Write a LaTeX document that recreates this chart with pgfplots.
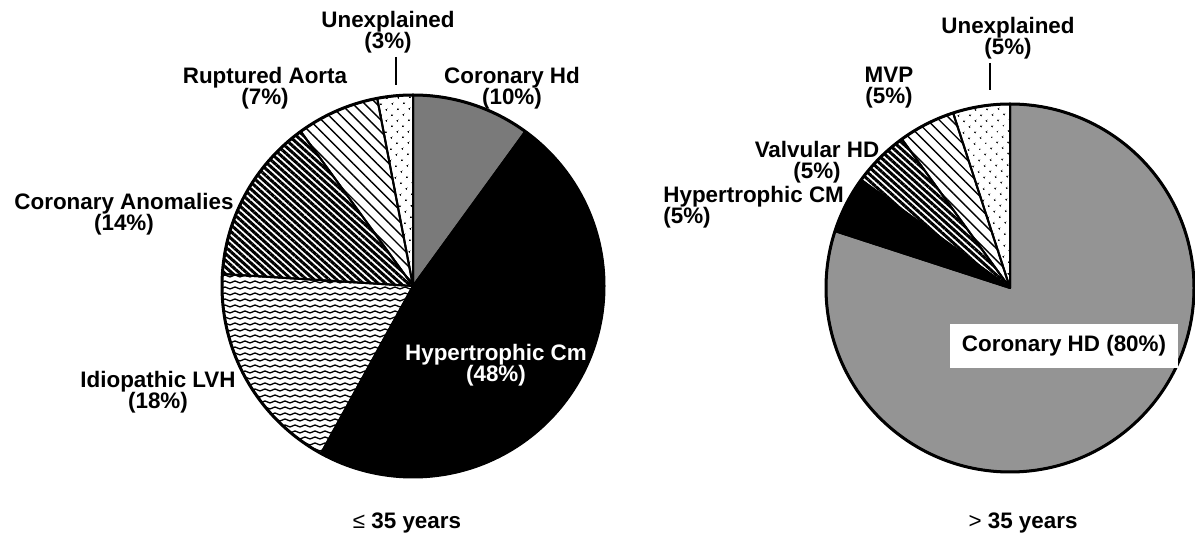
\documentclass[border=0pt]{standalone}
\usepackage{fontspec}
\setmainfont{Liberation Sans}
\usepackage{pgfplots}
\pgfplotsset{compat=1.18}
\usetikzlibrary{patterns,patterns.meta}

\pgfdeclarepatternformonly{waves}{\pgfqpoint{0pt}{-0.5pt}}{\pgfqpoint{5pt}{1.5pt}}{\pgfqpoint{5pt}{3pt}}{%
  \pgfsetlinewidth{0.65pt}%
  \pgfpathmoveto{\pgfqpoint{0pt}{0pt}}%
  \pgfpathcurveto{\pgfqpoint{1pt}{0pt}}{\pgfqpoint{1.5pt}{1pt}}{\pgfqpoint{2.5pt}{1pt}}%
  \pgfpathcurveto{\pgfqpoint{3.5pt}{1pt}}{\pgfqpoint{4pt}{0pt}}{\pgfqpoint{5pt}{0pt}}%
  \pgfusepath{stroke}%
}

% one slice: #1 style, #2 percent; start angle in \a, clockwise
\newcommand\slice[2]{%
  \pgfmathsetmacro\endang{\a-3.6*#2}%
  \edef\temp{\noexpand\addplot[\unexpanded{#1}, domain=\endang:\a, samples=90]
     ({\cx+\r*cos(x)},{\cy+\r*sin(x)}) -- (axis cs:\cx,\cy) -- cycle;}%
  \temp
  \let\a\endang
}

\tikzset{
  lab/.style={font=\fontsize{11.2}{10.6}\selectfont\bfseries, align=center, inner sep=0pt},
  sl/.style={draw=black, line width=1pt, line join=round},
  dotsp/.style={pattern={Dots[distance=4pt, angle=45, radius=0.55pt]}},
  sparse/.style={pattern={Lines[angle=-45, distance=4.2pt, line width=0.7pt]}},
  dense/.style={pattern={Lines[angle=-42, distance=2.5pt, line width=1.5pt]}},
  wavy/.style={pattern=waves},
}

\begin{document}
\begin{tikzpicture}
\begin{axis}[
  width=597.5pt, height=267.5pt, scale only axis,
  xmin=0, xmax=1195, ymin=0, ymax=535,
  axis lines=none, ticks=none, clip=false,
]
% ---------- left pie (<= 35 years) ----------
\def\cx{413}\def\cy{249}\def\r{191}\def\a{90}
\slice{sl, fill=black!52}{10}   % Coronary Hd
\slice{sl, fill=black}{48}      % Hypertrophic Cm
\slice{sl, wavy}{18}            % Idiopathic LVH
\slice{sl, dense}{14}           % Coronary Anomalies
\slice{sl, sparse}{7}           % Ruptured Aorta
\slice{sl, dotsp}{3}            % Unexplained
\draw[line width=1.5pt] (axis cs:413,249) circle[radius=95.5pt];

% ---------- right pie (> 35 years) ----------
\def\cx{1010}\def\cy{247}\def\r{184}\def\a{90}
\slice{sl, fill=black!42}{80}   % Coronary HD
\slice{sl, fill=black}{5}       % Hypertrophic CM
\slice{sl, dense}{5}            % Valvular HD
\slice{sl, sparse}{5}           % MVP
\slice{sl, dotsp}{5}            % Unexplained
\draw[line width=1.5pt] (axis cs:1010,247) circle[radius=92pt];

% ---------- labels left ----------
\node[lab] at (axis cs:388,503) {Unexplained\\(3\%)};
\draw[line width=0.9pt] (axis cs:396,478) -- (axis cs:396,450);
\node[lab] at (axis cs:265,447) {Ruptured Aorta\\(7\%)};
\node[lab] at (axis cs:512,447) {Coronary Hd\\(10\%)};
\node[lab] at (axis cs:124,321) {Coronary Anomalies\\(14\%)};
\node[lab] at (axis cs:158,143) {Idiopathic LVH\\(18\%)};
\node[lab, text=white] at (axis cs:496,170) {Hypertrophic Cm\\(48\%)};
\node[lab] at (axis cs:407,12) {{\mdseries ≤} 35 years};

% ---------- labels right ----------
\node[lab] at (axis cs:1008,497) {Unexplained\\(5\%)};
\draw[line width=0.9pt] (axis cs:990,472) -- (axis cs:990,445);
\node[lab] at (axis cs:889,447) {MVP\\(5\%)};
\node[lab] at (axis cs:817,373) {Valvular HD\\(5\%)};
\node[lab, align=left, anchor=west] at (axis cs:663,328) {Hypertrophic CM\\(5\%)};
\node[lab, fill=white, inner xsep=6pt, inner ysep=6pt] at (axis cs:1064,189) {Coronary HD (80\%)};
\node[lab] at (axis cs:1023,12) {{\mdseries >} 35 years};
\end{axis}
\pgfresetboundingbox
\path (current axis.south west) rectangle (current axis.north east);
\end{tikzpicture}
\end{document}
